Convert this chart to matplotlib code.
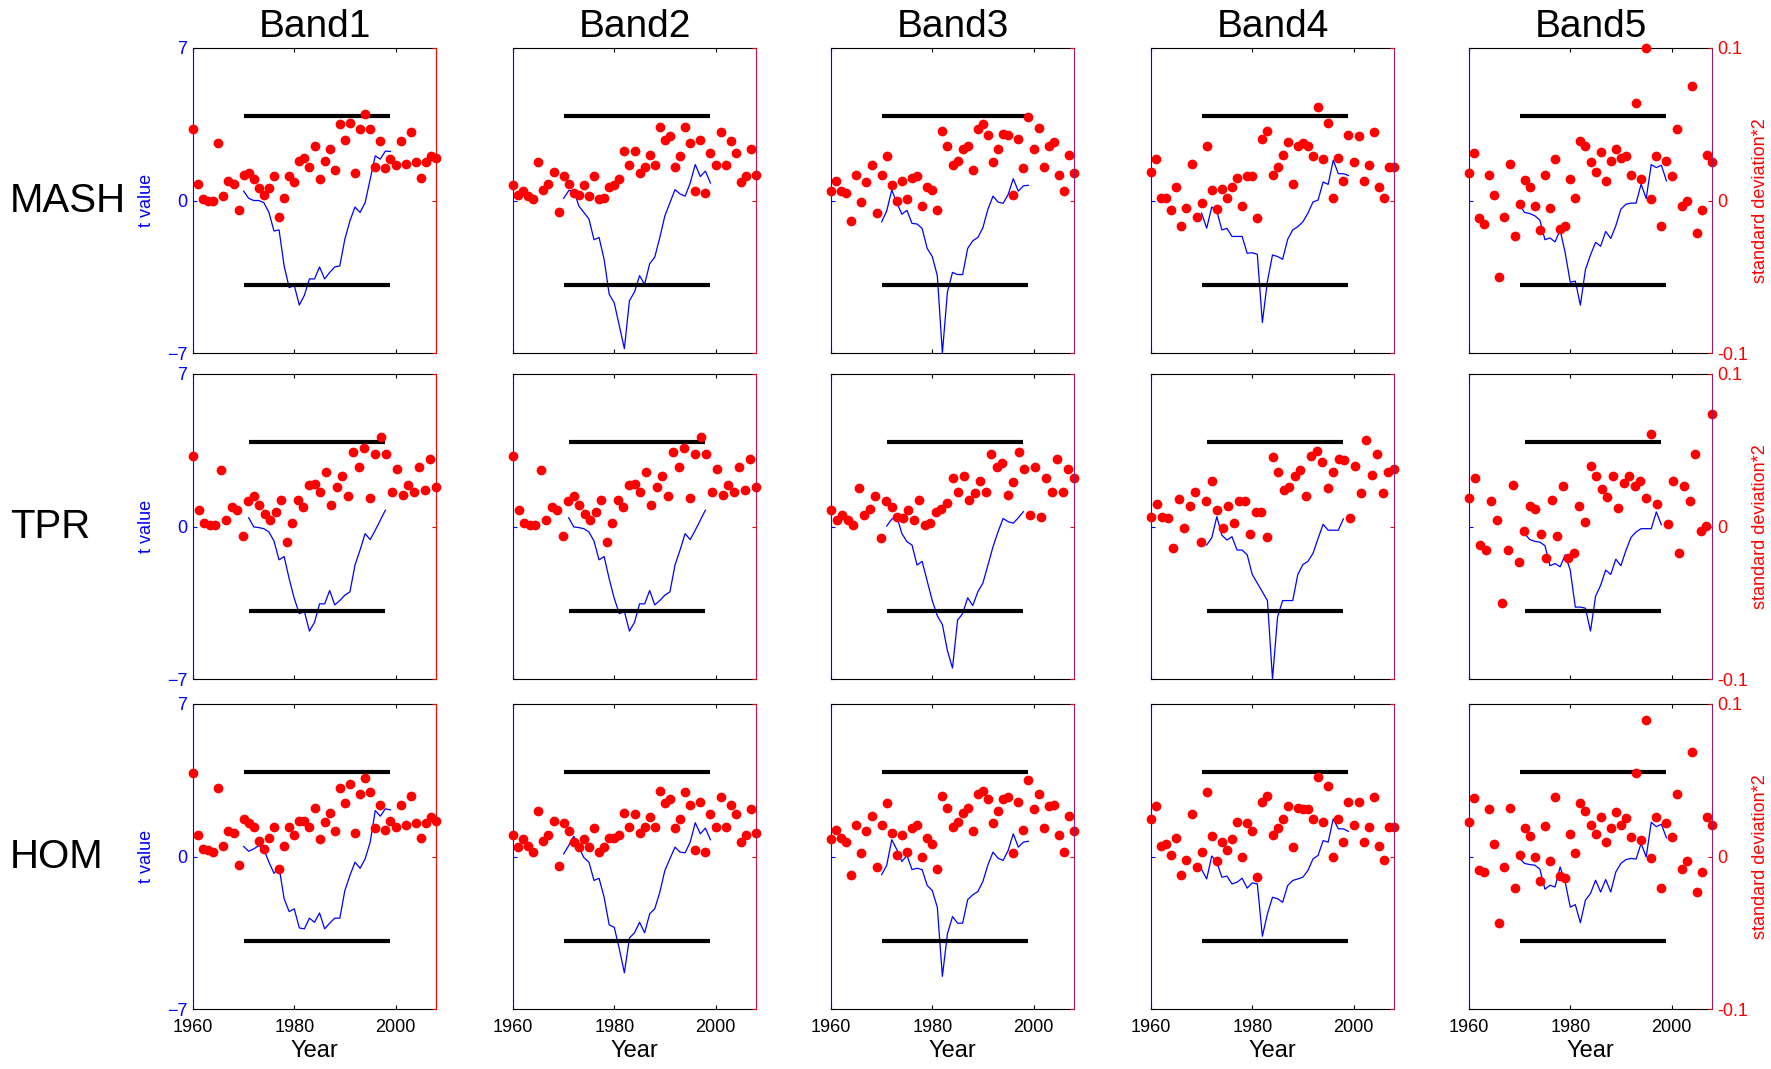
import numpy as np
import matplotlib.pyplot as plt

plt.rcParams['font.family'] = ['Liberation Sans', 'DejaVu Sans']

bands = ['Band1', 'Band2', 'Band3', 'Band4', 'Band5']
methods = ['MASH', 'TPR', 'HOM']

# years for the t value curves and the sd scatter
years_t = np.arange(1970, 2000)
years_t_tpr = np.arange(1971, 1999)
years_sd = np.arange(1960, 2009)
years_sd_tpr = np.arange(1960, 2005)
t_crit = 3.9

# ---- MASH ----
mash_t = [
    [0.43, 0.1, 0.0, 0.0, -0.1, -0.55, -1.4, -1.35, -3.0, -4.0, -3.9, -4.8, -4.35, -3.6, -3.6,
     -3.05, -3.6, -3.3, -3.05, -3.0, -1.77, -0.93, -0.3, -0.55, -0.1, 0.98, 2.05, 1.9, 2.27, 2.25],
    [0.1, 0.45, 0.47, -0.25, -0.55, -0.85, -1.8, -1.7, -2.7, -4.3, -4.7, -5.75, -6.8, -4.6, -4.2,
     -3.45, -3.85, -2.9, -2.6, -1.7, -0.7, -0.1, 0.5, 0.3, 0.2, 0.8, 1.65, 1.1, 1.35, 0.8],
    [-0.98, -0.48, 0.48, -0.1, -0.63, -0.45, -1.05, -1.08, -1.28, -2.2, -2.57, -3.45, -7.0, -4.2, -3.3,
     -3.4, -3.4, -2.2, -1.85, -1.7, -1.25, -0.4, 0.2, -0.07, -0.13, 0.28, 1.0, 0.43, 0.67, 0.7],
    [-0.58, -1.27, -0.3, -0.48, -1.35, -1.28, -1.65, -1.65, -1.65, -2.42, -2.4, -2.47, -5.6, -3.7, -2.5,
     -2.57, -2.7, -1.78, -1.35, -1.2, -0.98, -0.58, -0.07, 0.02, 0.85, 0.74, 1.85, 1.23, 1.23, 1.15],
    [-0.24, -0.55, -0.6, -0.7, -0.9, -1.8, -1.72, -1.9, -1.35, -2.4, -3.75, -3.7, -4.8, -3.17, -2.5,
     -1.92, -2.1, -1.42, -1.74, -1.16, -0.4, -0.17, -0.12, -0.12, 0.75, 0.09, 1.65, 1.51, 1.62, 0.9],
]
mash_sd = [
    [0.0467, 0.0109, 0.0007, 0.0, 0.0, 0.0375, 0.003, 0.013, 0.011, -0.0065, 0.017, 0.018, 0.014,
     0.008, 0.0037, 0.008, 0.016, -0.011, 0.0017, 0.016, 0.012, 0.026, 0.028, 0.022, 0.036, 0.014,
     0.026, 0.034, 0.020, 0.050, 0.040, 0.051, 0.018, 0.047, 0.057, 0.047, 0.022, 0.039, 0.021,
     0.027, 0.023, 0.039, 0.024, 0.045, 0.025, 0.015, 0.025, 0.029, 0.028],
    [0.010, 0.0037, 0.006, 0.003, 0.0007, 0.025, 0.007, 0.011, 0.019, -0.0074, 0.016, 0.011, 0.005,
     0.0037, 0.010, 0.003, 0.016, 0.0007, 0.0017, 0.009, 0.010, 0.014, 0.0325, 0.023, 0.0325, 0.018,
     0.022, 0.030, 0.023, 0.048, 0.040, 0.042, 0.022, 0.029, 0.048, 0.0375, 0.006, 0.040, 0.005,
     0.031, 0.023, 0.045, 0.023, 0.039, 0.031, 0.012, 0.016, 0.034, 0.017],
    [0.006, 0.013, 0.006, 0.005, -0.0137, 0.017, -0.0013, 0.012, 0.023, -0.0085, 0.017, 0.029, 0.010,
     -0.0004, 0.013, 0.0007, 0.015, 0.016, -0.0035, 0.009, 0.0067, -0.0065, 0.0457, 0.036, 0.023,
     0.026, 0.0335, 0.036, 0.020, 0.0467, 0.050, 0.043, 0.025, 0.034, 0.0436, 0.043, 0.0036, 0.0405,
     0.021, 0.055, 0.034, 0.0477, 0.022, 0.036, 0.0385, 0.017, 0.006, 0.030, 0.018],
    [0.019, 0.027, 0.0017, 0.0017, -0.0065, 0.009, -0.0168, -0.0046, 0.024, -0.0107, -0.0014, 0.036,
     0.0067, -0.0055, 0.0077, 0.0017, 0.009, 0.015, -0.0035, 0.016, 0.016, -0.0115, 0.0405, 0.0457,
     0.017, 0.022, 0.030, 0.0385, 0.011, 0.036, 0.0375, 0.0355, 0.029, 0.061, 0.027, 0.051, 0.0017,
     0.028, 0.013, 0.043, 0.025, 0.042, 0.013, 0.023, 0.0447, 0.009, 0.0017, 0.022, 0.022],
    [0.0179, 0.0314, -0.0113, -0.0157, 0.017, 0.0037, -0.050, -0.0105, 0.024, -0.0235, -0.002, 0.0133,
     0.009, -0.0035, -0.0196, 0.017, -0.0052, 0.027, -0.0187, -0.0166, 0.014, 0.0017, 0.039, 0.0355,
     0.025, 0.019, 0.032, 0.0129, 0.026, 0.034, 0.028, 0.029, 0.017, 0.064, 0.014, 0.0998, 0.0009,
     0.029, -0.0168, 0.026, 0.016, 0.0466, -0.0035, -0.0004, 0.0754, -0.0216, -0.0065, 0.030, 0.025],
]

# ---- TPR ----
tpr_t = [
    [0.4, -0.02, -0.05, -0.1, -0.25, -0.67, -1.53, -1.38, -2.4, -3.3, -4.0, -3.9, -4.8, -4.4,
     -3.55, -3.55, -2.94, -3.6, -3.4, -3.15, -3.0, -1.77, -1.08, -0.33, -0.6, -0.17, 0.29, 0.75],
    [0.4, -0.02, -0.05, -0.1, -0.25, -0.67, -1.53, -1.38, -2.4, -3.3, -4.0, -3.9, -4.8, -4.4,
     -3.55, -3.55, -2.94, -3.6, -3.4, -3.15, -3.0, -1.77, -1.08, -0.33, -0.6, -0.17, 0.29, 0.75],
    [0.02, 0.34, 0.45, -0.32, -0.7, -0.85, -1.77, -1.6, -2.5, -3.4, -4.1, -4.5, -5.7, -6.5,
     -4.3, -4.0, -3.27, -3.63, -3.0, -2.6, -1.77, -0.93, -0.24, 0.37, 0.22, 0.15, 0.4, 0.68],
    [-0.85, -0.52, 0.45, -0.4, -0.62, -0.47, -1.08, -1.08, -1.3, -2.2, -2.6, -3.0, -3.4, -7.0,
     -4.15, -3.4, -3.4, -3.4, -2.2, -1.75, -1.6, -1.23, -0.55, 0.1, -0.17, -0.17, -0.17, 0.35],
    [-0.33, -0.6, -0.68, -0.72, -0.88, -1.8, -1.7, -1.85, -1.3, -2.0, -3.7, -3.7, -3.75, -4.8,
     -3.2, -2.7, -2.0, -2.2, -1.5, -1.8, -1.1, -0.5, -0.25, -0.1, -0.1, -0.1, 0.67, 0.08],
]
tpr_sd = [
    [0.046, 0.011, 0.002, 0.001, 0.001, 0.037, 0.004, 0.0125, 0.011, -0.006, 0.0166, 0.0197, 0.0144,
     0.0083, 0.0044, 0.0094, 0.0175, -0.010, 0.002, 0.0175, 0.0125, 0.027, 0.028, 0.0227, 0.036,
     0.0144, 0.0258, 0.033, 0.0197, 0.049, 0.039, 0.0516, 0.0186, 0.0474, 0.0586, 0.0474, 0.0227,
     0.038, 0.0208, 0.027, 0.0227, 0.039, 0.0238, 0.0444, 0.0258],
    [0.046, 0.011, 0.002, 0.001, 0.001, 0.037, 0.004, 0.0125, 0.011, -0.006, 0.0166, 0.0197, 0.0144,
     0.0083, 0.0044, 0.0094, 0.0175, -0.010, 0.002, 0.0175, 0.0125, 0.027, 0.028, 0.0227, 0.036,
     0.0144, 0.0258, 0.033, 0.0197, 0.049, 0.039, 0.0516, 0.0186, 0.0474, 0.0586, 0.0474, 0.0227,
     0.038, 0.0208, 0.027, 0.0227, 0.039, 0.0238, 0.0444, 0.0258],
    [0.0106, 0.0045, 0.0075, 0.0045, 0.0012, 0.025, 0.0075, 0.0115, 0.0198, -0.0078, 0.0167, 0.0126,
     0.0064, 0.0054, 0.0106, 0.0045, 0.0176, 0.0012, 0.0023, 0.0095, 0.0115, 0.0156, 0.032, 0.0228,
     0.033, 0.0176, 0.0217, 0.030, 0.0228, 0.0475, 0.0392, 0.0414, 0.0208, 0.029, 0.0486, 0.038,
     0.0075, 0.0392, 0.0064, 0.032, 0.0228, 0.0444, 0.0228, 0.038, 0.032],
    [0.0064, 0.0148, 0.0064, 0.0054, -0.0139, 0.0178, -0.0008, 0.0137, 0.0228, -0.01, 0.0167, 0.030,
     0.0106, -0.0008, 0.0137, 0.0023, 0.0167, 0.0167, -0.0049, 0.0095, 0.0095, -0.0069, 0.0455, 0.036,
     0.024, 0.026, 0.033, 0.037, 0.0198, 0.0464, 0.0495, 0.0423, 0.025, 0.036, 0.0444, 0.0434, 0.0054,
     0.040, 0.0217, 0.0567, 0.034, 0.0475, 0.0217, 0.036, 0.038],
    [0.0187, 0.032, -0.0124, -0.0153, 0.0165, 0.004, -0.050, -0.0153, 0.027, -0.0236, -0.003, 0.0135,
     0.0113, -0.0052, -0.0205, 0.0176, -0.006, 0.0268, -0.0205, -0.0174, 0.0135, 0.0032, 0.040, 0.033,
     0.0249, 0.0196, 0.033, 0.0124, 0.0288, 0.033, 0.0268, 0.030, 0.0185, 0.0606, 0.0146, np.nan,
     0.0019, 0.030, -0.0174, 0.0268, 0.0165, 0.0475, -0.003, 0.0004, 0.074],
]

# ---- HOM ----
hom_t = [
    [0.46, 0.24, 0.35, 0.5, 0.32, -0.26, -0.77, -0.49, -1.94, -2.53, -2.4, -3.28, -3.32, -2.83, -3.02,
     -2.59, -3.32, -3.06, -2.83, -2.83, -1.56, -0.87, -0.26, -0.54, -0.11, 0.66, 2.11, 1.85, 2.19, 2.14],
    [0.12, 0.5, 0.93, 0.43, -0.05, -0.26, -1.1, -1.0, -1.87, -3.14, -3.25, -4.24, -5.34, -3.74, -3.5,
     -3.02, -3.5, -2.63, -2.4, -1.64, -0.64, -0.1, 0.43, 0.2, 0.17, 0.66, 1.55, 1.04, 1.3, 0.77],
    [-0.83, -0.41, 0.77, 0.32, -0.23, 0.05, -0.6, -0.54, -0.6, -1.33, -1.56, -2.33, -5.5, -3.55, -2.76,
     -3.06, -3.06, -1.98, -1.76, -1.61, -1.15, -0.38, 0.2, -0.08, -0.18, 0.28, 1.04, 0.43, 0.66, 0.70],
    [-0.6, -1.03, 0.02, -0.26, -0.95, -0.9, -1.26, -1.18, -1.0, -1.45, -1.21, -1.26, -3.66, -2.63, -1.87,
     -1.94, -2.1, -1.33, -1.1, -1.03, -0.95, -0.64, -0.11, 0.05, 0.73, 0.66, 1.73, 1.27, 1.27, 1.15],
    [-0.09, -0.32, -0.37, -0.4, -0.58, -1.5, -1.32, -1.4, -0.48, -1.17, -2.32, -2.21, -3.04, -2.0, -1.7,
     -1.09, -1.63, -1.06, -1.63, -0.71, -0.32, -0.14, -0.09, -0.12, 0.6, -0.02, 1.57, 1.37, 1.48, 0.86],
]
hom_sd = [
    [0.0545, 0.0144, 0.005, 0.0042, 0.0031, 0.045, 0.0072, 0.0164, 0.0153, -0.0053, 0.0247, 0.0217,
     0.0195, 0.0103, 0.005, 0.0123, 0.0195, -0.0083, 0.0072, 0.0195, 0.0144, 0.0236, 0.0236, 0.0195,
     0.0317, 0.0114, 0.0225, 0.0287, 0.0164, 0.045, 0.0348, 0.0473, 0.0153, 0.0411, 0.0514, 0.042,
     0.0184, 0.0339, 0.0175, 0.0236, 0.0195, 0.0339, 0.0206, 0.040, 0.0217, 0.0123, 0.0217, 0.0256, 0.0236],
    [0.0144, 0.0061, 0.0114, 0.0072, 0.0031, 0.0298, 0.0103, 0.0144, 0.0236, -0.0061, 0.0217, 0.0164,
     0.0092, 0.0061, 0.0114, 0.0061, 0.0184, 0.0031, 0.0061, 0.0123, 0.0123, 0.0144, 0.0287, 0.0195,
     0.0278, 0.0153, 0.0195, 0.0256, 0.0195, 0.0431, 0.0348, 0.0379, 0.0184, 0.0247, 0.042, 0.0339,
     0.0042, 0.0359, 0.0031, 0.0278, 0.0195, 0.039, 0.0195, 0.0339, 0.0278, 0.0092, 0.0144, 0.0309, 0.0153],
    [0.0114, 0.0175, 0.0123, 0.0092, -0.0123, 0.0206, 0.002, 0.0164, 0.0267, -0.0072, 0.0206, 0.035,
     0.0153, 0.0009, 0.0144, 0.0031, 0.0184, 0.0206, 0.0, 0.0123, 0.0081, -0.0083, 0.040, 0.0317,
     0.0195, 0.0225, 0.0287, 0.0317, 0.0164, 0.0411, 0.0431, 0.0379, 0.0217, 0.0298, 0.0379, 0.039,
     0.002, 0.0359, 0.0175, 0.0503, 0.0309, 0.041, 0.0184, 0.0328, 0.0339, 0.0144, 0.0031, 0.0267, 0.0164],
    [0.0247, 0.0328, 0.0072, 0.0083, 0.0011, 0.0123, -0.0123, -0.002, 0.0278, -0.0072, 0.0031, 0.042,
     0.0134, -0.0031, 0.0092, 0.0042, 0.0114, 0.0225, 0.0, 0.0217, 0.0164, -0.0133, 0.0359, 0.040,
     0.0144, 0.0184, 0.0247, 0.0328, 0.0061, 0.0317, 0.0309, 0.0309, 0.0247, 0.0523, 0.0225, 0.0462,
     0.0, 0.0247, 0.0092, 0.0359, 0.0206, 0.0359, 0.0092, 0.0195, 0.039, 0.0072, -0.002, 0.0195, 0.0195],
    [0.0228, 0.0384, -0.0088, -0.0099, 0.0311, 0.0083, -0.0439, -0.007, 0.032, -0.0206, 0.0011, 0.0189,
     0.0136, 0.0, -0.0162, 0.0197, -0.0029, 0.0393, -0.0129, -0.014, 0.0147, 0.0022, 0.0351, 0.030,
     0.0208, 0.0147, 0.0259, 0.0094, 0.0189, 0.029, 0.0208, 0.025, 0.0125, 0.0548, 0.0105, 0.0897,
     -0.0009, 0.0259, -0.0206, 0.0219, 0.0125, 0.0412, -0.0079, -0.0029, 0.0682, -0.0235, -0.0101,
     0.0259, 0.0208],
]

rows = [
    (mash_t, mash_sd, years_t, years_sd),
    (tpr_t, tpr_sd, years_t_tpr, years_sd_tpr),
    (hom_t, hom_sd, years_t, years_sd),
]

W, H = 1771, 1069
fig = plt.figure(figsize=(W / 100, H / 100), dpi=100)

col_left = [193, 513, 831, 1151, 1469]
row_top = [48, 374, 704]
pw, ph = 243, 305
right_spine = ['red', '#d0103a', '#a0186e', '#a0186e', '#a0186e']

for r, (t_vals, sd_vals, yt, ysd) in enumerate(rows):
    for c in range(5):
        rect = [col_left[c] / W, 1 - (row_top[r] + ph) / H, pw / W, ph / H]
        ax = fig.add_axes(rect)
        ax.plot(yt, t_vals[c], color='blue', lw=0.9)
        ax.hlines([t_crit, -t_crit], yt[0], yt[-1], colors='black', lw=3)
        ax.set_xlim(1960, 2008)
        ax.set_ylim(-7, 7)
        ax.spines['left'].set_color('blue')
        ax.spines['right'].set_visible(False)
        ax.set_xticks([1960, 1980, 2000])
        ax.tick_params(axis='x', direction='in', length=3, top=True,
                       labelbottom=(r == 2), labelsize=13, pad=7)
        ax.set_yticks([-7, 0, 7])
        ax.tick_params(axis='y', direction='in', length=3, colors='blue',
                       labelleft=(c == 0), labelsize=13, pad=4)
        if c == 0:
            ax.set_ylabel('t value', color='blue', fontsize=13)
            ax.yaxis.set_label_coords(-0.155, 0.5)
        if r == 0:
            ax.set_title(bands[c], fontsize=28, pad=8)
        if r == 2:
            ax.set_xlabel('Year', fontsize=17, labelpad=3)

        ax2 = fig.add_axes(rect, label='sd%d%d' % (r, c))
        ax2.patch.set_visible(False)
        ax2.plot(ysd, sd_vals[c], 'o', color='red', ms=6, clip_on=False)
        ax2.set_xlim(ysd[0], ysd[-1])
        ax2.set_ylim(-0.1, 0.1)
        ax2.set_xticks([])
        for s in ['left', 'top', 'bottom']:
            ax2.spines[s].set_visible(False)
        ax2.spines['right'].set_color(right_spine[c])
        ax2.yaxis.tick_right()
        ax2.set_yticks([-0.1, 0, 0.1])
        ax2.set_yticklabels(['-0.1', '0', '0.1'])
        ax2.tick_params(axis='y', direction='in', length=3, colors='red',
                        labelright=(c == 4), labelsize=13, pad=4)
        if c == 4:
            ax2.yaxis.set_label_position('right')
            ax2.set_ylabel('standard deviation*2', color='red', fontsize=13)
            ax2.yaxis.set_label_coords(1.165, 0.5)

    fig.text(10 / W, 1 - (row_top[r] + ph / 2) / H, methods[r], fontsize=29,
             ha='left', va='center')

fig.savefig('out.png', dpi=100)
